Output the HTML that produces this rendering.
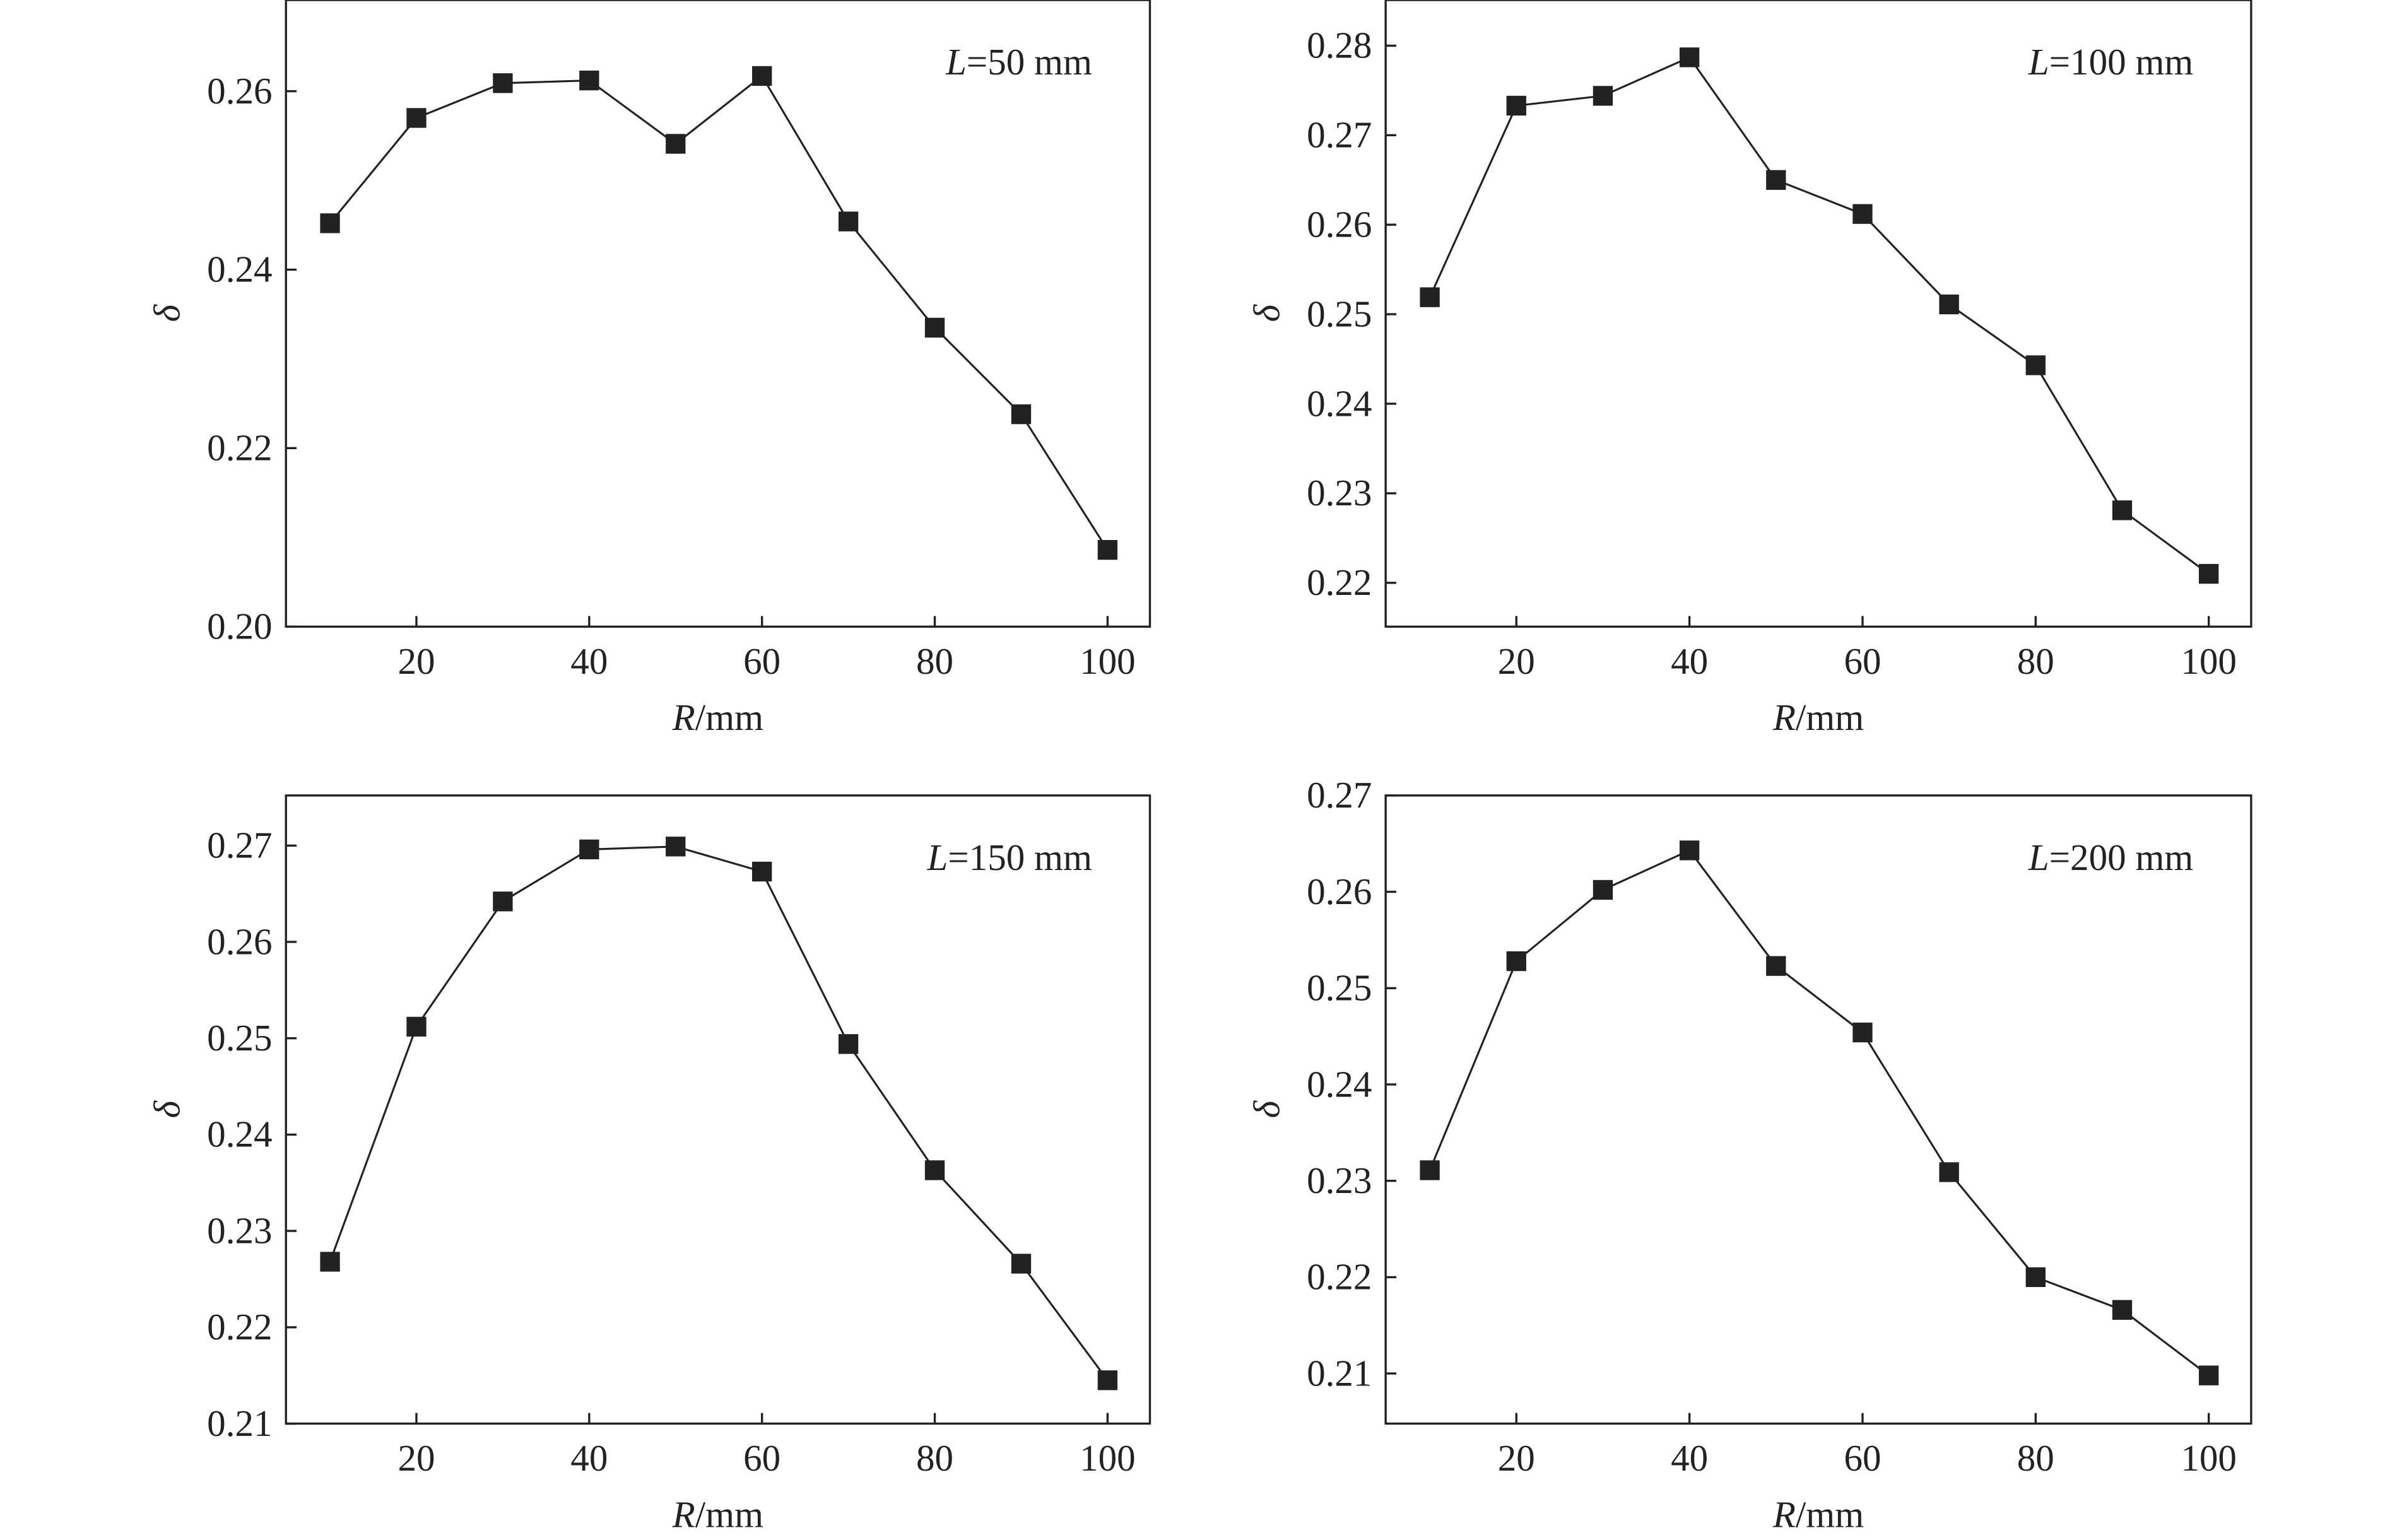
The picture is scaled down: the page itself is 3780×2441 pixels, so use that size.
<!DOCTYPE html>
<html><head><meta charset="utf-8"><style>
html,body{margin:0;padding:0;background:#fff;}
svg{display:block;}
text{font-family:"Liberation Serif",serif;fill:#222;}
</style></head><body>
<svg id="chart" width="3780" height="2441" viewBox="0 0 1568 1012.5" xmlns="http://www.w3.org/2000/svg"></svg>
<script>
const categories = [10,20,30,40,50,60,70,80,90,100];
const xTicks = [20,40,60,80,100];
const seriesL50 = [0.2452,0.2570,0.2609,0.2612,0.2541,0.2617,0.2454,0.2335,0.2238,0.2086];
const seriesL100 = [0.2519,0.2733,0.2744,0.2787,0.2650,0.2612,0.2511,0.2443,0.2281,0.2210];
const seriesL150 = [0.2268,0.2512,0.2642,0.2696,0.2699,0.2673,0.2494,0.2363,0.2266,0.2145];
const seriesL200 = [0.2311,0.2528,0.2602,0.2643,0.2523,0.2454,0.2309,0.2200,0.2166,0.2098];
const ticksL50 = ["0.20","0.22","0.24","0.26"];
const ticksL100 = ["0.22","0.23","0.24","0.25","0.26","0.27","0.28"];
const ticksL150 = ["0.21","0.22","0.23","0.24","0.25","0.26","0.27"];
const ticksL200 = ["0.21","0.22","0.23","0.24","0.25","0.26","0.27"];

const NS="http://www.w3.org/2000/svg";
const svg=document.getElementById('chart');
function mk(tag,attrs,parent){const e=document.createElementNS(NS,tag);for(const k in attrs)e.setAttribute(k,attrs[k]);(parent||svg).appendChild(e);return e;}

const panels=[
 {x0:188,x1:756,y0:0,y1:412,ymin:0.2,ymax:0.27021,data:seriesL50,ticks:ticksL50,label:"50",name:"l50"},
 {x0:911,x1:1480,y0:0,y1:412,ymin:0.2151,ymax:0.2851,data:seriesL100,ticks:ticksL100,label:"100",name:"l100"},
 {x0:188,x1:756,y0:523,y1:936,ymin:0.21,ymax:0.2752,data:seriesL150,ticks:ticksL150,label:"150",name:"l150"},
 {x0:911,x1:1480,y0:523,y1:936,ymin:0.2048,ymax:0.27,data:seriesL200,ticks:ticksL200,label:"200",name:"l200"}
];
const xmin=4.9,xmax=104.9;
panels.forEach(p=>{
 const g=mk('g',{});
 
 
 const sx=v=>p.x0+(v-xmin)/(xmax-xmin)*(p.x1-p.x0);
 const sy=v=>p.y1-(v-p.ymin)/(p.ymax-p.ymin)*(p.y1-p.y0);
 const fr=mk('rect',{x:p.x0,y:p.y0,width:p.x1-p.x0,height:p.y1-p.y0,fill:'none',stroke:'#222','stroke-width':1.4},g);
 
 
 p.ticks.forEach(t=>{
  const y=sy(parseFloat(t));
  const tk=mk('line',{x1:p.x0,x2:p.x0+7,y1:y,y2:y,stroke:'#222','stroke-width':1.4},g);
  
  
  const tl=mk('text',{x:p.x0-9,y:y+8,'text-anchor':'end','font-size':24.5},g);
  tl.textContent=t;
  
  
 });
 xTicks.forEach(t=>{
  const x=sx(t);
  const tk=mk('line',{x1:x,x2:x,y1:p.y1,y2:p.y1-7,stroke:'#222','stroke-width':1.4},g);
  
  
  const tl=mk('text',{x:x,y:p.y1+31,'text-anchor':'middle','font-size':24.5},g);
  tl.textContent=t;
  
  
 });
 const pts=categories.map((c,i)=>sx(c)+','+sy(p.data[i])).join(' ');
 const ln=mk('polyline',{points:pts,fill:'none',stroke:'#222','stroke-width':1.3},g);
 
 
 categories.forEach((c,i)=>{
  const m=mk('rect',{x:sx(c)-6.5,y:sy(p.data[i])-6.5,width:13,height:13,fill:'#222'},g);
  
  
 });
 const lab=mk('text',{x:p.x1-38,y:p.y0+49,'text-anchor':'end','font-size':24.5},g);
 lab.innerHTML='<tspan font-style="italic">L</tspan>='+p.label+' mm';
 
 
 const xl=mk('text',{x:(p.x0+p.x1)/2,y:p.y1+68,'text-anchor':'middle','font-size':24.5},g);
 xl.innerHTML='<tspan font-style="italic">R</tspan>/mm';
 
 
 const cy=(p.y0+p.y1)/2;
 const yl=mk('text',{x:p.x0-70,y:cy,'text-anchor':'middle','font-size':24.5,'font-style':'italic',transform:'rotate(-90 '+(p.x0-70)+' '+cy+')'},g);
 yl.textContent='δ';
 
 
});
</script>
</body></html>
